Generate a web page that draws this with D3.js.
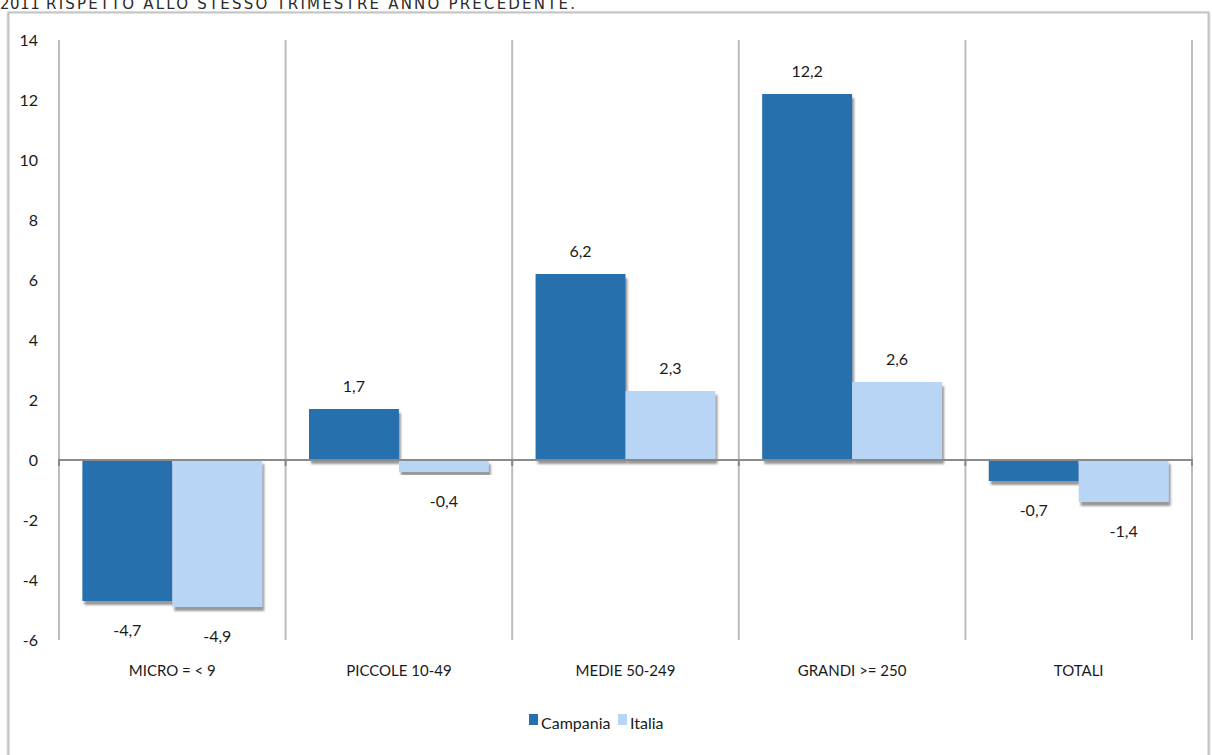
<!DOCTYPE html>
<html>
<head>
<meta charset="utf-8">
<script src="https://cdn.jsdelivr.net/npm/d3@7"></script>
<style>
  html, body { margin: 0; padding: 0; background: #fff; overflow: hidden; }
  svg { display: block; }
  .lbl { font-family: Lato, "Noto Sans", sans-serif; fill: #1a1a1a; }
</style>
</head>
<body>
<svg id="chart" width="1212" height="755"></svg>
<script>
const categories = ["MICRO = < 9", "PICCOLE 10-49", "MEDIE 50-249", "GRANDI >= 250", "TOTALI"];
const seriesNames = ["Campania", "Italia"];
const campania = [-4.7, 1.7, 6.2, 12.2, -0.7];
const italia = [-4.9, -0.4, 2.3, 2.6, -1.4];
const yTicks = [-6, -4, -2, 0, 2, 4, 6, 8, 10, 12, 14];
const colors = ["#2770ad", "#b9d5f6"];
const titleYear = "2011";
const titleRest = "RISPETTO ALLO STESSO TRIMESTRE ANNO PRECEDENTE.";

const svg = d3.select("#chart");

// shadow filters
const defs = svg.append("defs");
const f = defs.append("filter").attr("id", "sh").attr("x", "-10%").attr("y", "-10%").attr("width", "130%").attr("height", "130%");
f.append("feDropShadow").attr("dx", 2).attr("dy", 4).attr("stdDeviation", 1.2)
  .attr("flood-color", "#444").attr("flood-opacity", 0.55);
const f2 = defs.append("filter").attr("id", "bsh").attr("x", "-5%").attr("y", "-5%").attr("width", "110%").attr("height", "110%");
f2.append("feDropShadow").attr("dx", 0).attr("dy", 1).attr("stdDeviation", 1)
  .attr("flood-color", "#888").attr("flood-opacity", 0.6);

// title (clipped at top edge like the reference)
const tt = svg.append("text")
  .attr("y", 9)
  .attr("font-family", "'DejaVu Sans', sans-serif")
  .attr("fill", "#2a2a2a");
tt.append("tspan").attr("x", 0).attr("font-size", 15).attr("letter-spacing", 0.5).text(titleYear);
tt.append("tspan").attr("x", 46).attr("font-size", 15)
  .attr("textLength", 529).attr("lengthAdjust", "spacing").text(titleRest);

// outer border
svg.append("rect")
  .attr("x", 8.5).attr("y", 12.5).attr("width", 1200).attr("height", 760)
  .attr("fill", "#fff").attr("stroke", "#c4c4c4").attr("stroke-width", 2)
  .attr("filter", "url(#bsh)");

const pL = 59, pR = 1192, pT = 40, pB = 640;
const x = d3.scaleBand().domain(categories).range([pL, pR]).padding(0);
const y = d3.scaleLinear().domain([-6, 14]).range([pB, pT]);
const x1 = d3.scaleBand().domain(seriesNames).range([0, x.bandwidth()]).paddingOuter(0.26).paddingInner(0);

// vertical separators
const seps = categories.map(c => x(c)).concat([x(categories[categories.length - 1]) + x.bandwidth()]);
svg.append("g").selectAll("line").data(seps).join("line")
  .attr("x1", d => d).attr("x2", d => d)
  .attr("y1", y(14)).attr("y2", y(-6))
  .attr("stroke", "#bdbdbd").attr("stroke-width", 2);

// y axis labels
svg.append("g").selectAll("text").data(yTicks).join("text")
  .attr("class", "lbl")
  .attr("x", 38).attr("y", d => y(d) + 6)
  .attr("text-anchor", "end")
  .attr("font-size", 16)
  .text(d => String(d));

// bars
const rows = categories.map((c, i) => ({ cat: c, vals: [campania[i], italia[i]] }));
const groups = svg.append("g").selectAll("g").data(rows).join("g")
  .attr("transform", d => `translate(${x(d.cat)},0)`);

groups.selectAll("rect").data(d => d.vals.map((v, j) => ({ v, s: seriesNames[j], j }))).join("rect")
  .attr("x", d => x1(d.s))
  .attr("width", x1.bandwidth())
  .attr("y", d => Math.min(y(d.v), y(0)))
  .attr("height", d => Math.abs(y(d.v) - y(0)))
  .attr("fill", d => colors[d.j])
  .attr("filter", "url(#sh)");

// zero line
svg.append("line")
  .attr("x1", pL).attr("x2", pR)
  .attr("y1", y(0)).attr("y2", y(0))
  .attr("stroke", "#8a8a8a").attr("stroke-width", 2);
svg.append("g").selectAll("line").data(seps).join("line")
  .attr("x1", d => d).attr("x2", d => d)
  .attr("y1", y(0) - 1).attr("y2", y(0) + 6)
  .attr("stroke", "#8a8a8a").attr("stroke-width", 2);

// value labels
groups.selectAll("text.val").data(d => d.vals.map((v, j) => ({ v, s: seriesNames[j], j }))).join("text")
  .attr("class", "lbl val")
  .attr("x", d => x1(d.s) + x1.bandwidth() / 2)
  .attr("y", d => d.v >= 0 ? y(d.v) - 17 : y(d.v) + 35)
  .attr("text-anchor", "middle")
  .attr("font-size", 16)
  .text(d => String(d.v).replace(".", ","));

// category labels
svg.append("g").selectAll("text").data(categories).join("text")
  .attr("class", "lbl")
  .attr("x", d => x(d) + x.bandwidth() / 2)
  .attr("y", 676)
  .attr("text-anchor", "middle")
  .attr("font-size", 15)
  .text(d => d);

// legend
const lg = svg.append("g").attr("transform", "translate(529,724)");
const legX = [0, 89];
seriesNames.forEach((s, i) => {
  lg.append("rect").attr("x", legX[i]).attr("y", -10).attr("width", 9).attr("height", 11).attr("fill", colors[i]);
  lg.append("text").attr("class", "lbl").attr("x", legX[i] + 12).attr("y", 5)
    .attr("font-size", 16).text(s);
});
</script>
</body>
</html>
